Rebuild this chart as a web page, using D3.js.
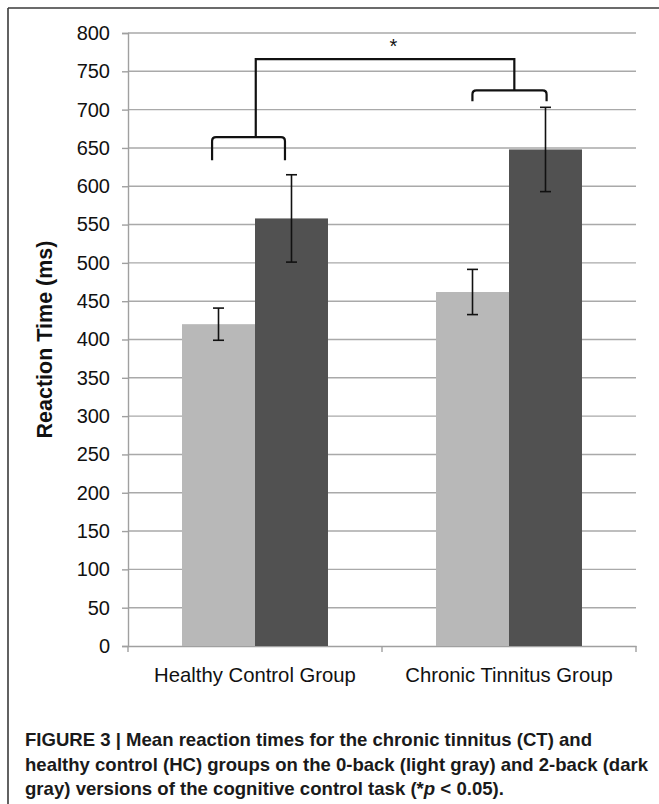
<!DOCTYPE html>
<html>
<head>
<meta charset="utf-8">
<script src="https://cdn.jsdelivr.net/npm/d3@7"></script>
<style>
  html, body { margin: 0; padding: 0; background: #fff; }
  svg { display: block; font-family: "Liberation Sans", Arial, Helvetica, sans-serif; }
</style>
</head>
<body>
<svg id="chart" width="659" height="804"></svg>
<script>
// Groups and task conditions
const groups = ["Healthy Control Group", "Chronic Tinnitus Group"];
const conditions = ["0-back", "2-back"];

// Mean reaction times (ms) per group, one array per condition
const meanZeroBack = [420, 462];
const meanTwoBack = [558, 648];

// Error bar half-widths (ms)
const errZeroBack = [21, 29.5];
const errTwoBack = [57, 55];

// Y axis ticks
const yTicks = d3.range(0, 801, 50);

// Significance brackets: level of the cross-bar and leg ends (ms),
// horizontal spans as fractions of each group's band
const bracketLevel = [664, 725];
const bracketLegEnd = [634, 711];
const bracketSpan = [[0.331, 0.618], [0.356, 0.648]];
const bracketStem = [0.503, 0.521];
const topBarLevel = 766;
const starLevel = 785;
const starLabel = "*";

const yTitle = "Reaction Time (ms)";
const captionLines = [
  "FIGURE 3 | Mean reaction times for the chronic tinnitus (CT) and",
  "healthy control (HC) groups on the 0-back (light gray) and 2-back (dark",
  "gray) versions of the cognitive control task (*"
];

const colors = { "0-back": "#b8b8b8", "2-back": "#515151" };

const rows = groups.map((g, i) => ({
  group: g,
  bars: [
    { cond: conditions[0], value: meanZeroBack[i], err: errZeroBack[i] },
    { cond: conditions[1], value: meanTwoBack[i], err: errTwoBack[i] }
  ]
}));

const svg = d3.select("#chart");

// Figure frame (top and left rules)
svg.append("line").attr("x1", 8).attr("x2", 659).attr("y1", 8).attr("y2", 8)
  .attr("stroke", "#3a3a3a").attr("stroke-width", 1.6);
svg.append("line").attr("x1", 8).attr("x2", 8).attr("y1", 8).attr("y2", 804)
  .attr("stroke", "#3a3a3a").attr("stroke-width", 1.6);

const plot = { left: 128, right: 636, top: 33, bottom: 646 };

const x0 = d3.scaleBand().domain(groups).range([plot.left, plot.right]).padding(0);
const x1 = d3.scaleBand().domain(conditions).range([0, x0.bandwidth()])
  .paddingInner(0).paddingOuter(0.74);
const y = d3.scaleLinear().domain([0, 800]).range([plot.bottom, plot.top]);

// Gridlines
svg.append("g").selectAll("line").data(yTicks.filter(t => t > 0)).join("line")
  .attr("x1", plot.left).attr("x2", plot.right)
  .attr("y1", d => y(d)).attr("y2", d => y(d))
  .attr("stroke", "#a9a9a9").attr("stroke-width", 1.4);

// Y axis
const yAxis = svg.append("g").attr("transform", `translate(${plot.left},0)`)
  .call(d3.axisLeft(y).tickValues(yTicks).tickSize(6).tickPadding(12));
yAxis.select(".domain").attr("stroke", "#a0a0a0").attr("stroke-width", 1.4);
yAxis.selectAll(".tick line").attr("stroke", "#a0a0a0").attr("stroke-width", 1.4);
yAxis.selectAll(".tick text").attr("font-size", 20).attr("fill", "#111")
  .attr("font-family", "'Liberation Sans', Arial, sans-serif");

// X axis
const xAxis = svg.append("g").attr("transform", `translate(0,${plot.bottom})`)
  .call(d3.axisBottom(x0).tickSize(0).tickPadding(22));
xAxis.select(".domain").attr("stroke", "#a0a0a0").attr("stroke-width", 1.4);
xAxis.selectAll(".tick text").attr("font-size", 20.3).attr("fill", "#111")
  .attr("font-family", "'Liberation Sans', Arial, sans-serif");
// Category separators below the axis
svg.append("g").selectAll("line")
  .data([...groups.map(g => x0(g)), plot.right]).join("line")
  .attr("x1", d => d).attr("x2", d => d)
  .attr("y1", plot.bottom).attr("y2", plot.bottom + 6)
  .attr("stroke", "#a0a0a0").attr("stroke-width", 1.4);

// Bars
const gGroups = svg.append("g").selectAll("g").data(rows).join("g")
  .attr("transform", d => `translate(${x0(d.group)},0)`);
gGroups.selectAll("rect").data(d => d.bars).join("rect")
  .attr("x", d => x1(d.cond)).attr("width", x1.bandwidth())
  .attr("y", d => y(d.value)).attr("height", d => y(0) - y(d.value))
  .attr("fill", d => colors[d.cond]);

// Error bars
const capHalf = 5.5;
const eb = gGroups.selectAll("g.err").data(d => d.bars).join("g").attr("class", "err")
  .attr("transform", d => `translate(${x1(d.cond) + x1.bandwidth() / 2},0)`);
eb.append("line").attr("x1", 0).attr("x2", 0)
  .attr("y1", d => y(d.value - d.err)).attr("y2", d => y(d.value + d.err))
  .attr("stroke", "#111").attr("stroke-width", 1.6);
eb.append("line").attr("x1", -capHalf).attr("x2", capHalf)
  .attr("y1", d => y(d.value + d.err)).attr("y2", d => y(d.value + d.err))
  .attr("stroke", "#111").attr("stroke-width", 1.6);
eb.append("line").attr("x1", -capHalf).attr("x2", capHalf)
  .attr("y1", d => y(d.value - d.err)).attr("y2", d => y(d.value - d.err))
  .attr("stroke", "#111").attr("stroke-width", 1.6);

// Significance brackets
const bx = (gi, f) => x0(groups[gi]) + f * x0.bandwidth();
const r = 4;
const bracketPath = (gi) => {
  const xa = bx(gi, bracketSpan[gi][0]), xb = bx(gi, bracketSpan[gi][1]);
  const yh = y(bracketLevel[gi]), yl = y(bracketLegEnd[gi]);
  return `M${xa},${yl} L${xa},${yh + r} Q${xa},${yh} ${xa + r},${yh} ` +
         `L${xb - r},${yh} Q${xb},${yh} ${xb},${yh + r} L${xb},${yl}`;
};
const gb = svg.append("g").attr("fill", "none").attr("stroke", "#111")
  .attr("stroke-width", 2.2);
groups.forEach((g, gi) => gb.append("path").attr("d", bracketPath(gi)));
gb.append("path").attr("d",
  `M${bx(0, bracketStem[0])},${y(bracketLevel[0])} L${bx(0, bracketStem[0])},${y(topBarLevel)} ` +
  `L${bx(1, bracketStem[1])},${y(topBarLevel)} L${bx(1, bracketStem[1])},${y(bracketLevel[1])}`);
svg.append("text")
  .attr("x", bx(1, 0.045)).attr("y", y(starLevel) + 9)
  .attr("text-anchor", "middle").attr("font-size", 20).attr("fill", "#111")
  .text(starLabel);

// Y axis title
svg.append("text")
  .attr("transform", `translate(52,${(plot.top + plot.bottom) / 2}) rotate(-90)`)
  .attr("text-anchor", "middle").attr("font-size", 21.5).attr("font-weight", "bold")
  .attr("fill", "#111").text(yTitle);

// Caption
const cap = svg.append("g").attr("font-weight", "bold").attr("font-size", 18.6)
  .attr("fill", "#1a1a1a");
const capY = [746, 770.5, 795];
const capEnds = [592, 648, null];
captionLines.forEach((line, i) => {
  const t = cap.append("text").attr("x", 25).attr("y", capY[i]);
  t.append("tspan").text(line);
  if (i === 2) {
    t.append("tspan").attr("font-style", "italic").text("p");
    t.append("tspan").text(" < 0.05).");
  }
  if (capEnds[i]) t.attr("textLength", capEnds[i] - 25).attr("lengthAdjust", "spacingAndGlyphs");
});
</script>
</body>
</html>
